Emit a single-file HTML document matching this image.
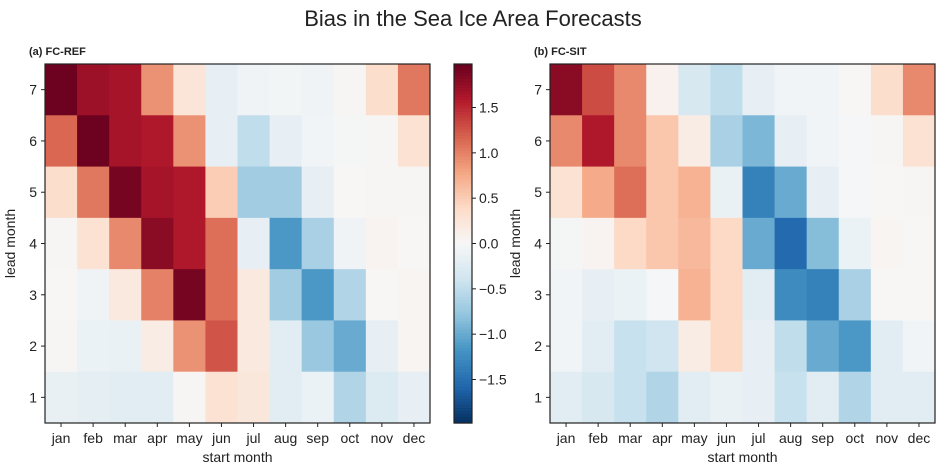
<!DOCTYPE html>
<html><head><meta charset="utf-8"><style>
body{margin:0;background:#fff;}
svg text{font-family:"Liberation Sans","DejaVu Sans",sans-serif;fill:#222;}
</style></head><body>
<svg id="chart" width="946" height="471" viewBox="0 0 946 471" xmlns="http://www.w3.org/2000/svg">
<text x="473" y="26" text-anchor="middle" font-size="22">Bias in the Sea Ice Area Forecasts</text>
</svg>
<script>
const months = ["jan","feb","mar","apr","may","jun","jul","aug","sep","oct","nov","dec"];
const leads = [7,6,5,4,3,2,1];
const cbTicks = [1.5,1.0,0.5,0.0,-0.5,-1.0,-1.5];
const valuesRef = [
 [1.95,1.7,1.65,0.9,0.25,-0.17,-0.08,-0.05,-0.08,0.03,0.35,1.05],
 [1.15,1.95,1.65,1.6,0.9,-0.17,-0.5,-0.17,-0.06,-0.03,0.03,0.3],
 [0.35,1.05,1.9,1.65,1.6,0.5,-0.7,-0.7,-0.17,0.02,0.03,0.03],
 [0.03,0.3,0.95,1.8,1.6,1.1,-0.17,-1.15,-0.65,-0.08,0.05,0.02],
 [0.02,-0.08,0.2,1.0,1.9,1.1,0.2,-0.7,-1.15,-0.6,0.02,0.04],
 [0.03,-0.12,-0.14,0.15,0.9,1.25,0.2,-0.22,-0.75,-1.0,-0.17,0.04],
 [-0.15,-0.2,-0.23,-0.23,0.03,0.3,0.22,-0.23,-0.12,-0.6,-0.28,-0.17]
];
const valuesSit = [
 [1.8,1.3,0.95,0.08,-0.33,-0.5,-0.17,-0.06,-0.06,0.02,0.35,0.95],
 [0.95,1.6,0.95,0.55,0.15,-0.65,-0.9,-0.17,-0.06,-0.02,0.03,0.3],
 [0.3,0.75,1.1,0.55,0.7,-0.14,-1.35,-1.0,-0.17,-0.02,0.02,0.03],
 [-0.03,0.05,0.4,0.55,0.65,0.4,-1.0,-1.55,-0.85,-0.12,0.04,0.02],
 [-0.06,-0.17,-0.12,-0.02,0.7,0.4,-0.22,-1.25,-1.35,-0.65,0.02,0.02],
 [-0.06,-0.22,-0.45,-0.4,0.15,0.4,-0.17,-0.5,-1.0,-1.15,-0.22,-0.06],
 [-0.23,-0.33,-0.45,-0.6,-0.22,-0.14,-0.17,-0.45,-0.23,-0.6,-0.23,-0.23]
];
const VMIN=-1.98, VMAX=1.98;
const stops=["#053061","#2166ac","#4393c3","#92c5de","#d1e5f0","#f7f7f7","#fddbc7","#f4a582","#d6604d","#b2182b","#67001f"];
function hex(h){return [1,3,5].map(i=>parseInt(h.substr(i,2),16));}
function cmap(v){
  let t=(v-VMIN)/(VMAX-VMIN); t=Math.max(0,Math.min(1,t))*10;
  let i=Math.min(9,Math.floor(t)), f=t-i;
  const a=hex(stops[i]), b=hex(stops[i+1]);
  return "rgb("+a.map((c,k)=>Math.round(c+(b[k]-c)*f)).join(",")+")";
}
const NS="http://www.w3.org/2000/svg";
const svg=document.getElementById("chart");
function mk(tag,attrs,parent){const e=document.createElementNS(NS,tag);for(const k in attrs)e.setAttribute(k,attrs[k]);(parent||svg).appendChild(e);return e;}
const Y0=64, Y1=423;
function panel(x0,x1,vals,label,key){
  const g=mk("g",{});
  
  
  const cw=(x1-x0)/months.length, ch=(Y1-Y0)/leads.length;
  const xs=i=>x0+i*cw, ys=j=>Y0+j*ch;
  vals.forEach((row,j)=>row.forEach((v,i)=>{
    const r=mk("rect",{x:xs(i),y:ys(j),width:cw+0.5,height:ch+0.5,fill:cmap(v)},g);
    
    
  }));
  const fr=mk("rect",{x:x0,y:Y0,width:x1-x0,height:Y1-Y0,fill:"none",stroke:"#222","stroke-width":1.2},g);
  
  
  months.forEach((m,i)=>{
    const cx=xs(i)+cw/2;
    mk("line",{x1:cx,x2:cx,y1:Y1,y2:Y1+4,stroke:"#222"},g);
    const t=mk("text",{x:cx,y:Y1+20,"text-anchor":"middle","font-size":14},g);
    t.textContent=m;
    
    
  });
  leads.forEach((l,j)=>{
    const cy=ys(j)+ch/2;
    mk("line",{x1:x0-4,x2:x0,y1:cy,y2:cy,stroke:"#222"},g);
    const t=mk("text",{x:x0-8,y:cy+5,"text-anchor":"end","font-size":14},g);
    t.textContent=l;
    
    
  });
  const xl=mk("text",{x:(x0+x1)/2,y:462,"text-anchor":"middle","font-size":14},g);
  xl.textContent="start month";
  
  
  const yl=mk("text",{x:0,y:0,"text-anchor":"middle","font-size":14,transform:"translate("+(x0-30)+","+((Y0+Y1)/2)+") rotate(-90)"},g);
  yl.textContent="lead month";
  
  
  const pl=mk("text",{x:x0-16,y:55,"font-size":11,"font-weight":"bold"},g);
  pl.textContent=label;
  
  
}
panel(45,430,valuesRef,"(a) FC-REF","fc-ref");
panel(550,935,valuesSit,"(b) FC-SIT","fc-sit");
const cbx=454, cbw=18;
const cy=v=>Y0+(VMAX-v)/(VMAX-VMIN)*(Y1-Y0);
const cb=mk("g",{});


const N=120;
for(let k=0;k<N;k++){
  const v=VMAX-(k+0.5)*(VMAX-VMIN)/N;
  mk("rect",{x:cbx,y:Y0+k*(Y1-Y0)/N,width:cbw,height:(Y1-Y0)/N+0.6,fill:cmap(v)},cb);
}
mk("rect",{x:cbx,y:Y0,width:cbw,height:Y1-Y0,fill:"none",stroke:"#222","stroke-width":1.2},cb);
cbTicks.forEach(v=>{
  const y=cy(v);
  mk("line",{x1:cbx+cbw,x2:cbx+cbw+4,y1:y,y2:y,stroke:"#222"},cb);
  const t=mk("text",{x:cbx+cbw+7,y:y+5,"font-size":14},cb);
  t.textContent=(v<0?"\u2212":"")+Math.abs(v).toFixed(1);
  
  
});
</script>
</body></html>
